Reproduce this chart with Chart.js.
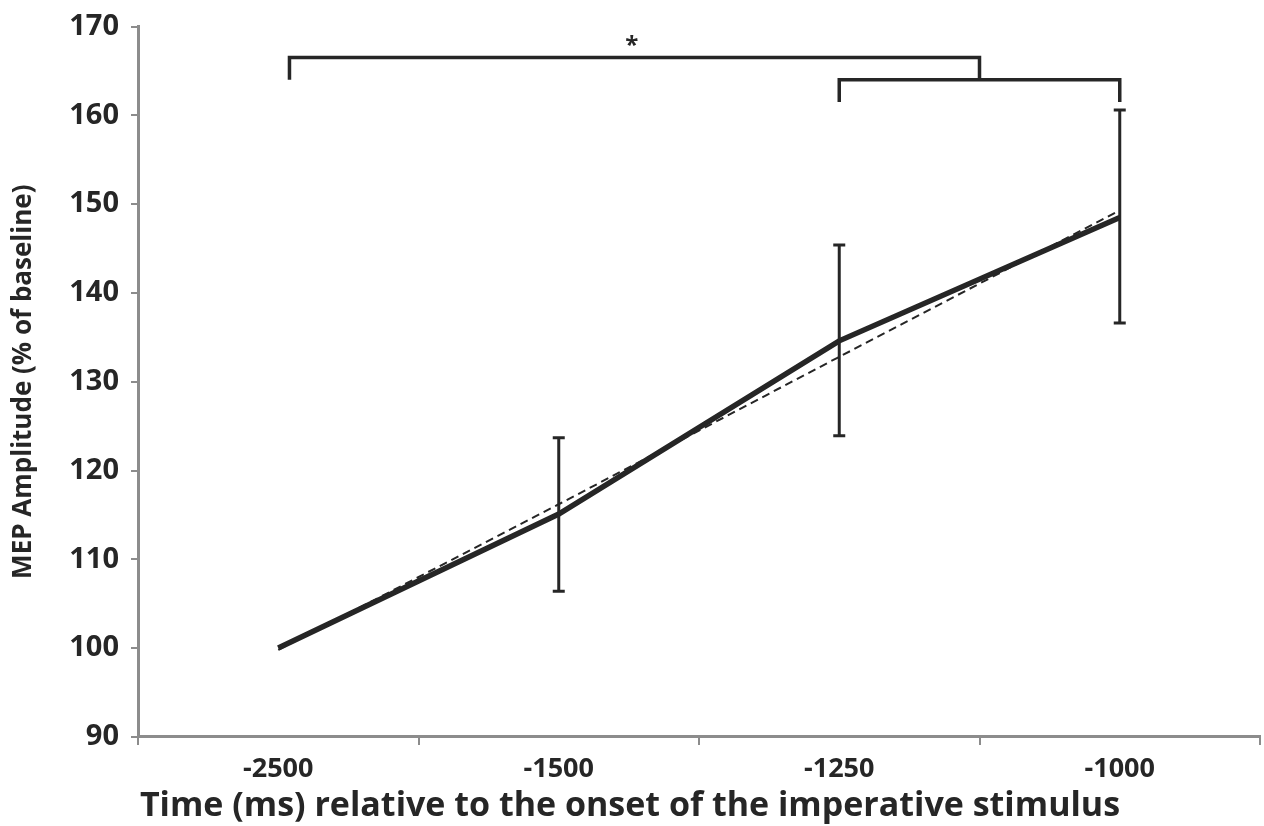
<!DOCTYPE html>
<html>
<head>
<meta charset="utf-8">
<script src="https://cdn.jsdelivr.net/npm/chart.js@4.4.1/dist/chart.umd.min.js"></script>
<style>
  html, body { margin: 0; padding: 0; background: #fff; }
  #wrap { width: 1264px; height: 826px; }
</style>
</head>
<body>
<div id="wrap"><canvas id="myChart"></canvas></div>
<script>
const categories = ['-2500', '-1500', '-1250', '-1000'];
const mepMeans = [100, 115.1, 134.6, 148.5];
const trendLine = [99.8, 116.2, 132.8, 149.3];
const errLow = [null, 106.4, 123.9, 136.6];
const errHigh = [null, 123.7, 145.4, 160.6];
const yTicks = [90, 100, 110, 120, 130, 140, 150, 160, 170];

// significance brackets: [from index, to index, bar level, left leg bottom, right leg bottom]
const brackets = [
  [0.04, 2.5, 166.5, 164.0, 164.0],
  [2, 3, 164.0, 161.5, 161.5]
];
const starPos = [1.26, 168.4];

const ink = '#262626';
const axisGrey = '#8c8c8c';
const fontFam = '"Open Sans", Lato, sans-serif';

const extras = {
  id: 'extras',
  afterDatasetsDraw(chart) {
    const { ctx, scales: { x, y } } = chart;
    const px = (i) => {
      const a = x.getPixelForValue(Math.floor(i));
      const b = x.getPixelForValue(Math.min(Math.floor(i) + 1, categories.length - 1));
      return a + (b - a) * (i - Math.floor(i));
    };
    ctx.save();
    ctx.strokeStyle = ink;
    ctx.lineCap = 'butt';
    // error bars
    ctx.lineWidth = 3;
    errLow.forEach((lo, i) => {
      if (lo == null) return;
      const cx = x.getPixelForValue(i);
      const y1 = y.getPixelForValue(lo), y2 = y.getPixelForValue(errHigh[i]);
      ctx.beginPath();
      ctx.moveTo(cx, y1); ctx.lineTo(cx, y2);
      ctx.moveTo(cx - 6, y1); ctx.lineTo(cx + 6, y1);
      ctx.moveTo(cx - 6, y2); ctx.lineTo(cx + 6, y2);
      ctx.stroke();
    });
    // brackets
    ctx.lineWidth = 3.5;
    brackets.forEach(b => {
      const x1 = px(b[0]), x2 = px(b[1]);
      const yb = y.getPixelForValue(b[2]);
      ctx.beginPath();
      ctx.moveTo(x1, y.getPixelForValue(b[3]));
      ctx.lineTo(x1, yb);
      ctx.lineTo(x2, yb);
      ctx.lineTo(x2, y.getPixelForValue(b[4]));
      ctx.stroke();
    });
    ctx.fillStyle = ink;
    ctx.font = 'bold 24px ' + fontFam;
    ctx.textAlign = 'center';
    ctx.textBaseline = 'middle';
    ctx.fillText('*', px(starPos[0]), y.getPixelForValue(starPos[1]) + 5);
    ctx.restore();
  }
};

const ctx = document.querySelector('#myChart').getContext('2d');

const myChart = new Chart(ctx, {
  type: 'line',
  data: {
    labels: categories,
    datasets: [{
      data: trendLine,
      borderColor: ink,
      borderWidth: 2,
      borderDash: [8, 5],
      pointRadius: 0,
      tension: 0
    }, {
      data: mepMeans,
      borderColor: ink,
      borderWidth: 5.5,
      pointRadius: 0,
      tension: 0
    }]
  },
  options: {
    responsive: true,
    maintainAspectRatio: false,
    animation: false,
    layout: { padding: { top: 8, right: 4, left: 0, bottom: 0 } },
    plugins: {
      legend: { display: false },
      tooltip: { enabled: false },
      title: {
        display: true,
        position: 'bottom',
        text: 'Time (ms) relative to the onset of the imperative stimulus',
        color: ink,
        font: { family: fontFam, size: 34, weight: 'bold', lineHeight: 1.15 },
        padding: { top: 2, bottom: 0 }
      }
    },
    scales: {
      x: {
        offset: true,
        grid: { offset: true, drawOnChartArea: false, drawTicks: true, tickLength: 8, color: axisGrey, lineWidth: 2 },
        border: { color: axisGrey, width: 3 },
        ticks: { color: ink, font: { family: fontFam, size: 27, weight: 'bold' }, padding: 8 },
        afterFit: (s) => { s.height = 48; }
      },
      y: {
        min: 90,
        max: 170,
        afterBuildTicks: (s) => { s.ticks = yTicks.map(v => ({ value: v })); },
        grid: { drawOnChartArea: false, drawTicks: true, tickLength: 7, color: axisGrey, lineWidth: 2 },
        border: { color: axisGrey, width: 3 },
        ticks: { color: ink, font: { family: fontFam, size: 29, weight: 'bold', lineHeight: 1 }, padding: 12 },
        title: { display: true, text: 'MEP Amplitude (% of baseline)',
          color: ink, font: { family: fontFam, size: 26, weight: 'bold' }, padding: { top: 8, bottom: 0 } },
        afterFit: (s) => { s.width = 138; }
      }
    }
  },
  plugins: [extras]
});
</script>
</body>
</html>
